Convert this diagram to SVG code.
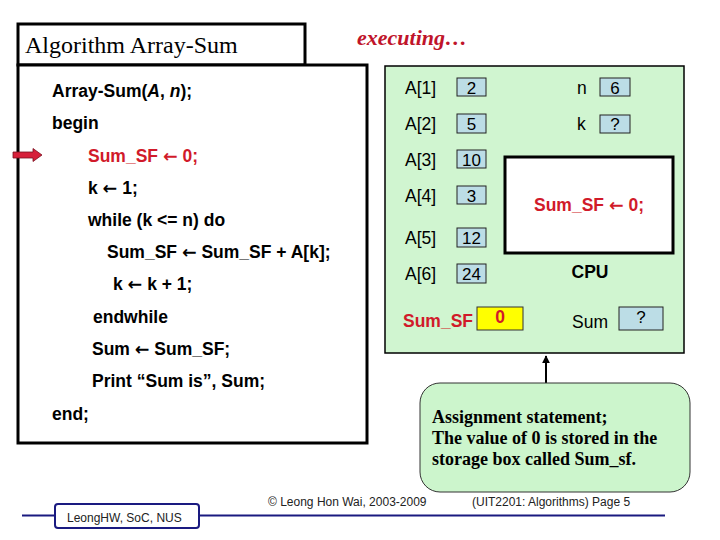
<svg xmlns="http://www.w3.org/2000/svg" width="720" height="540" viewBox="0 0 720 540">
<defs>
<style>
.code{font-family:"Liberation Sans",Arial,sans-serif;font-weight:bold;font-size:17.5px;fill:#000}
.red{fill:#d11a2a}
.ar{font-family:"DejaVu Sans",sans-serif;font-weight:bold}
.lbl{font-family:"Liberation Sans",Arial,sans-serif;font-size:17.5px;fill:#000}
.val{font-family:"Liberation Sans",Arial,sans-serif;font-size:17px;fill:#000;text-anchor:middle}
.box{fill:#bcdde6;stroke:#222;stroke-width:1}
.note{font-family:"Liberation Serif","Times New Roman",serif;font-weight:bold;font-size:18px;fill:#000}
.foot{font-family:"Liberation Sans",Arial,sans-serif;font-size:12px;fill:#222}
</style>
<marker id="ah" viewBox="0 0 10 10" refX="9" refY="5" markerWidth="4" markerHeight="4" orient="auto">
<path d="M0,0 L10,5 L0,10 z" fill="#000"/>
</marker>
</defs>
<rect width="720" height="540" fill="#fff"/>

<g id="title">
<rect x="18" y="24" width="287" height="41" fill="#fff" stroke="#000" stroke-width="3"/>
<text x="25" y="53" font-family="Liberation Serif,'Times New Roman',serif" font-size="24" fill="#000">Algorithm Array-Sum</text>
</g>
<text id="executing" x="357" y="45" font-family="Liberation Serif,'Times New Roman',serif" font-size="22" font-style="italic" font-weight="bold" fill="#c0142a">executing…</text>

<g id="code">
<rect x="18" y="65" width="349" height="378" fill="#fff" stroke="#000" stroke-width="3"/>
<text class="code" x="52" y="97">Array-Sum(<tspan font-style="italic">A</tspan>, <tspan font-style="italic">n</tspan>);</text>
<text class="code" x="52" y="129">begin</text>
<text class="code red" x="88" y="162">Sum_SF <tspan class="ar">←</tspan> 0;</text>
<text class="code" x="88" y="194">k <tspan class="ar">←</tspan> 1;</text>
<text class="code" x="88" y="226">while (k &lt;= n) do</text>
<text class="code" x="107" y="258">Sum_SF <tspan class="ar">←</tspan> Sum_SF + A[k];</text>
<text class="code" x="113" y="290">k <tspan class="ar">←</tspan> k + 1;</text>
<text class="code" x="93" y="323">endwhile</text>
<text class="code" x="92" y="355">Sum <tspan class="ar">←</tspan> Sum_SF;</text>
<text class="code" x="92" y="387">Print “Sum is”, Sum;</text>
<text class="code" x="52" y="420">end;</text>
</g>

<g id="pointer">
<path d="M13,152 L33,152 L33,148.5 L42,155 L33,161.5 L33,158 L13,158 z" fill="#d6203a" stroke="#7a1020" stroke-width="0.8"/>
</g>

<g id="memory">
<rect x="385" y="66" width="299" height="287" fill="#d0f5d0" stroke="#000" stroke-width="1.5"/>
<text class="lbl" x="405" y="94">A[1]</text>
<rect class="box" x="457" y="78" width="29" height="18"/><text class="val" x="471.5" y="94">2</text>
<text class="lbl" x="405" y="130">A[2]</text>
<rect class="box" x="457" y="114" width="29" height="19"/><text class="val" x="471.5" y="130">5</text>
<text class="lbl" x="405" y="166">A[3]</text>
<rect class="box" x="457" y="150" width="29" height="18"/><text class="val" x="471.5" y="166">10</text>
<text class="lbl" x="405" y="202">A[4]</text>
<rect class="box" x="457" y="186" width="29" height="18"/><text class="val" x="471.5" y="202">3</text>
<text class="lbl" x="405" y="244">A[5]</text>
<rect class="box" x="457" y="228" width="29" height="19"/><text class="val" x="471.5" y="244">12</text>
<text class="lbl" x="405" y="280">A[6]</text>
<rect class="box" x="457" y="264" width="29" height="19"/><text class="val" x="471.5" y="280">24</text>
<text class="lbl" x="577" y="94">n</text>
<rect class="box" x="600" y="78" width="30" height="18"/><text class="val" x="615" y="94">6</text>
<text class="lbl" x="577" y="130">k</text>
<rect class="box" x="600" y="115" width="30" height="18"/><text class="val" x="615" y="130">?</text>
<text class="code red" x="403" y="327">Sum_SF</text>
<rect x="477" y="307" width="46" height="23" fill="#ffff00" stroke="#333" stroke-width="1"/>
<text class="code red" x="500" y="323" text-anchor="middle">0</text>
<text class="lbl" x="572" y="328">Sum</text>
<rect class="box" x="619" y="307" width="44" height="23"/><text class="val" x="641" y="323">?</text>
</g>

<g id="cpu">
<rect x="505" y="157" width="168" height="96" fill="#fff" stroke="#000" stroke-width="3"/>
<text class="code red" x="589" y="211" text-anchor="middle">Sum_SF <tspan class="ar">←</tspan> 0;</text>
<text class="code" x="590" y="278" text-anchor="middle">CPU</text>
</g>

<g id="connectors">
<line x1="546" y1="383" x2="546" y2="356" stroke="#000" stroke-width="2" marker-end="url(#ah)"/>
</g>

<g id="callout">
<rect x="420" y="383" width="270" height="109" rx="20" ry="20" fill="#ccf5cc" stroke="#333" stroke-width="1"/>
<text class="note" x="432" y="423">Assignment statement;</text>
<text class="note" x="432" y="444">The value of 0 is stored in the</text>
<text class="note" x="432" y="465">storage box called Sum_sf.</text>
</g>

<g id="footer">
<line x1="22" y1="515.5" x2="665" y2="515.5" stroke="#1a1a80" stroke-width="2"/>
<rect x="55" y="504" width="144" height="24" rx="3" fill="#fff" stroke="#1a1a80" stroke-width="2"/>
<text class="foot" x="67" y="522">LeongHW, SoC, NUS</text>
<text class="foot" x="268" y="506">© Leong Hon Wai, 2003-2009</text>
<text class="foot" x="472" y="506">(UIT2201: Algorithms) Page 5</text>
</g>
</svg>
